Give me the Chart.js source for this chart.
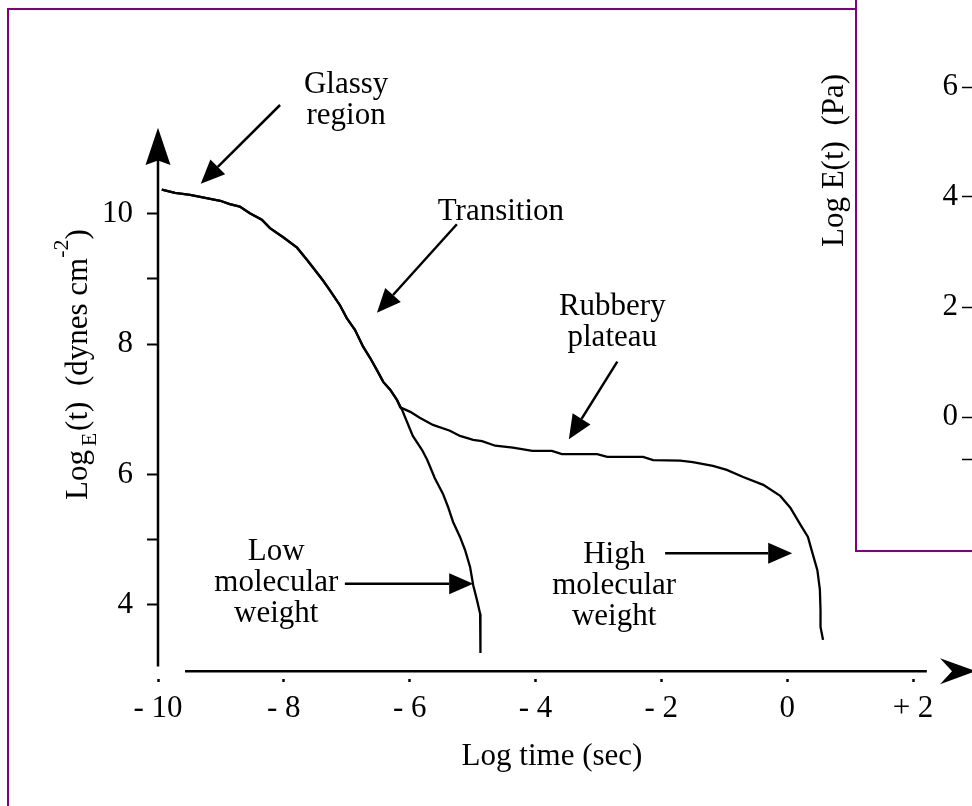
<!DOCTYPE html>
<html>
<head>
<meta charset="utf-8">
<script src="https://cdn.jsdelivr.net/npm/chart.js@4.4.1/dist/chart.umd.min.js"></script>
<style>
html,body{margin:0;padding:0;background:#fff;overflow:hidden;width:972px;height:806px;position:relative;}
#frame{position:absolute;left:7px;top:8px;width:1200px;height:1000px;border-left:2.5px solid #800080;border-top:2.5px solid #800080;}
#main{position:absolute;left:0;top:0;}
#inset{position:absolute;left:855px;top:-10px;width:200px;height:560px;background:#fff;border-left:2.5px solid #800080;border-bottom:2.5px solid #800080;overflow:hidden;}
#insetCanvas{position:absolute;left:0;top:10px;}
</style>
</head>
<body>
<div id="frame"></div>
<canvas id="main" width="972" height="806"></canvas>
<div id="inset"><canvas id="insetCanvas" width="300" height="550"></canvas></div>
<script>
// ---------- data ----------
const xTickValues = [-10, -8, -6, -4, -2, 0, 2];
const yTickValues = [4, 5, 6, 7, 8, 9, 10];
const yLabelledTicks = [4, 6, 8, 10];

// common part of the relaxation modulus curve (glassy -> transition)
const commonX = [-9.94,-9.73,-9.49,-9.33,-9.01,-8.86,-8.70,-8.54,-8.35,-8.22,-8.01,-7.79,-7.63,-7.54,-7.38,-7.27,-7.11,-7.00,-6.87,-6.74,-6.63,-6.52,-6.42,-6.31,-6.20];
const commonY = [10.37,10.32,10.29,10.26,10.20,10.15,10.11,10.01,9.91,9.78,9.64,9.48,9.29,9.18,8.98,8.83,8.60,8.40,8.22,7.96,7.79,7.60,7.42,7.30,7.14];
// high molecular weight branch (rubbery plateau then flow)
const highX = [-6.15,-5.99,-5.84,-5.63,-5.36,-5.20,-4.99,-4.85,-4.64,-4.36,-4.05,-3.74,-3.58,-3.02,-2.86,-2.29,-2.13,-1.70,-1.50,-1.18,-0.96,-0.70,-0.38,-0.11,0.05,0.21,0.33,0.40,0.48,0.52,0.53,0.53,0.57];
const highY = [7.03,6.96,6.87,6.76,6.67,6.59,6.53,6.51,6.44,6.41,6.36,6.36,6.31,6.31,6.27,6.27,6.22,6.21,6.19,6.13,6.07,5.96,5.84,5.67,5.49,5.23,5.04,4.80,4.53,4.23,3.92,3.66,3.46];
// low molecular weight branch
const lowX = [-6.12,-6.04,-5.95,-5.80,-5.72,-5.60,-5.47,-5.39,-5.31,-5.20,-5.12,-5.04,-4.99,-4.93,-4.88,-4.88,-4.87];
const lowY = [6.99,6.80,6.59,6.37,6.22,5.94,5.70,5.50,5.27,5.04,4.84,4.58,4.30,4.07,3.86,3.57,3.26];

// annotation labels (data coordinates of first baseline, centre)
const noteLines = [['Glassy','region'], ['Transition'], ['Rubbery','plateau'], ['Low','molecular','weight'], ['High','molecular','weight']];
const noteX = [-7.01, -4.55, -2.78, -8.12, -2.75];
const noteY = [11.85, 9.90, 8.45, 4.69, 4.64];
// annotation arrows (data coordinates)
const arrowFromX = [-8.06, -5.25, -2.70, -7.03, -1.94];
const arrowFromY = [11.67, 9.84, 7.73, 4.32, 4.79];
const arrowToX = [-9.32, -6.52, -3.47, -4.99, 0.08];
const arrowToY = [10.46, 8.48, 6.54, 4.32, 4.79];

// inset (partial second panel) ticks
const insetTickValues = [6, 4, 2, 0];
const insetExtraTicks = [-0.78];

// ---------- helpers ----------
const FONT = '"Liberation Serif", "Times New Roman", serif';
Chart.defaults.font.family = FONT;
Chart.defaults.color = '#000';

const toPts = (xs, ys) => xs.map((x, i) => ({x: x, y: ys[i]}));
const highSeries = toPts(commonX.concat(highX), commonY.concat(highY));
const lowSeries = toPts(commonX.concat(lowX), commonY.concat(lowY));

function fmtX(v){ if (v < 0) return '- ' + Math.abs(v); if (v > 0) return '+ ' + v; return '0'; }

function drawArrow(ctx, x1, y1, x2, y2, len, half){
  const a = Math.atan2(y2 - y1, x2 - x1);
  const bx = x2 - len * Math.cos(a), by = y2 - len * Math.sin(a);
  ctx.beginPath(); ctx.moveTo(x1, y1); ctx.lineTo(bx, by); ctx.stroke();
  ctx.beginPath();
  ctx.moveTo(x2, y2);
  ctx.lineTo(bx + half * Math.sin(a), by - half * Math.cos(a));
  ctx.lineTo(bx - half * Math.sin(a), by + half * Math.cos(a));
  ctx.closePath(); ctx.fill();
}

const decor = {
  id: 'decor',
  afterDraw(chart){
    const ctx = chart.ctx, xs = chart.scales.x, ys = chart.scales.y;
    const X = v => xs.getPixelForValue(v), Y = v => ys.getPixelForValue(v);
    ctx.save();
    ctx.fillStyle = '#000'; ctx.strokeStyle = '#000';
    // y axis with arrow
    ctx.lineWidth = 2.5;
    const ax = X(-10);
    ctx.beginPath(); ctx.moveTo(ax, Y(3.05)); ctx.lineTo(ax, Y(10.85)); ctx.stroke();
    ctx.beginPath();
    ctx.moveTo(ax, Y(11.32)); ctx.lineTo(ax - 12.5, Y(10.75)); ctx.lineTo(ax, Y(10.82)); ctx.lineTo(ax + 12.5, Y(10.75));
    ctx.closePath(); ctx.fill();
    // x axis with arrow
    const ay = Y(2.98);
    ctx.beginPath(); ctx.moveTo(X(-9.57), ay); ctx.lineTo(X(2.22), ay); ctx.stroke();
    ctx.beginPath();
    ctx.moveTo(X(3.0), ay); ctx.lineTo(X(2.43), ay - 13); ctx.lineTo(X(2.62), ay); ctx.lineTo(X(2.43), ay + 13);
    ctx.closePath(); ctx.fill();
    // annotation texts
    ctx.font = '31px ' + FONT; ctx.textAlign = 'center'; ctx.textBaseline = 'alphabetic';
    noteLines.forEach((lines, i) => {
      lines.forEach((t, j) => ctx.fillText(t, X(noteX[i]), Y(noteY[i]) + j * 31));
    });
    // annotation arrows
    ctx.lineWidth = 2.5;
    arrowFromX.forEach((_, i) => drawArrow(ctx, X(arrowFromX[i]), Y(arrowFromY[i]), X(arrowToX[i]), Y(arrowToY[i]), 24, 10.5));
    // x axis title
    ctx.font = '31px ' + FONT; ctx.textAlign = 'center';
    ctx.fillText('Log time (sec)', 552, 765);
    // y axis title with subscript / superscript
    ctx.save();
    ctx.translate(87, 500); ctx.rotate(-Math.PI / 2);
    ctx.textAlign = 'left';
    let p = 0;
    const piece = (t, size, dy) => { ctx.font = size + 'px ' + FONT; ctx.fillText(t, p, dy); p += ctx.measureText(t).width; };
    piece('Log ', 31, 0); p -= 4; piece('E', 22, 9); p += 2; piece('(t)  (dynes cm', 31, 0); piece('-2', 22, -19); piece(')', 31, 0);
    ctx.restore();
    // inset panel axis title
    ctx.save();
    ctx.translate(843, 247); ctx.rotate(-Math.PI / 2);
    ctx.textAlign = 'left'; ctx.font = '31px ' + FONT;
    ctx.fillText('Log E(t)  (Pa)', 0, 0);
    ctx.restore();
    ctx.restore();
  }
};

// ---------- main chart ----------
new Chart(document.getElementById('main'), {
  type: 'line',
  data: {
    datasets: [
      {label: 'High molecular weight', data: highSeries, borderColor: '#000', borderWidth: 2.3, pointRadius: 0, tension: 0, fill: false, clip: false},
      {label: 'Low molecular weight', data: lowSeries, borderColor: '#000', borderWidth: 2.3, pointRadius: 0, tension: 0, fill: false, clip: false}
    ]
  },
  options: {
    responsive: false, animation: false,
    layout: {padding: {left: 0, right: 59, top: 122.6, bottom: 0}},
    plugins: {legend: {display: false}, tooltip: {enabled: false}},
    scales: {
      x: {
        type: 'linear', position: 'bottom', min: -10, max: 2,
        afterBuildTicks: s => { s.ticks = xTickValues.map(v => ({value: v})); },
        afterFit: s => { s.height = 127; },
        ticks: {callback: v => fmtX(v), font: {size: 31}, color: '#000', padding: 8, maxRotation: 0, autoSkip: false},
        grid: {drawOnChartArea: false, drawTicks: true, tickLength: 3, tickWidth: 2.5, tickColor: '#000'},
        border: {display: false}
      },
      y: {
        type: 'linear', position: 'left', min: 2.8596, max: 11.4,
        afterBuildTicks: s => { s.ticks = yTickValues.map(v => ({value: v})); },
        afterFit: s => { s.width = 158; },
        ticks: {callback: v => yLabelledTicks.includes(v) ? String(v) : '', font: {size: 31}, color: '#000', padding: 14, autoSkip: false},
        grid: {drawOnChartArea: false, drawTicks: true, tickLength: 11, tickWidth: 2,
               tickColor: c => (c.tick && c.tick.value === 7) ? 'rgba(0,0,0,0)' : '#000'},
        border: {display: false}
      }
    }
  },
  plugins: [decor]
});

// ---------- inset (partial second panel) ----------
new Chart(document.getElementById('insetCanvas'), {
  type: 'line',
  data: {datasets: []},
  options: {
    responsive: false, animation: false,
    layout: {padding: {left: 0, right: 0, top: 32, bottom: 50.5}},
    plugins: {legend: {display: false}, tooltip: {enabled: false}},
    scales: {
      x: {type: 'linear', display: false, min: 0, max: 1},
      y: {
        type: 'linear', position: 'left', min: -1.5, max: 7,
        afterBuildTicks: s => { s.ticks = insetExtraTicks.concat(insetTickValues.slice().reverse()).map(v => ({value: v})); },
        afterFit: s => { s.width = 116; },
        ticks: {callback: v => insetTickValues.includes(v) ? String(v) : '', font: {size: 31}, color: '#000', padding: 4, autoSkip: false},
        grid: {drawOnChartArea: false, drawTicks: true, tickLength: 11, tickWidth: 1.5, tickColor: '#000'},
        border: {display: false}
      }
    }
  }
});
</script>
</body>
</html>
